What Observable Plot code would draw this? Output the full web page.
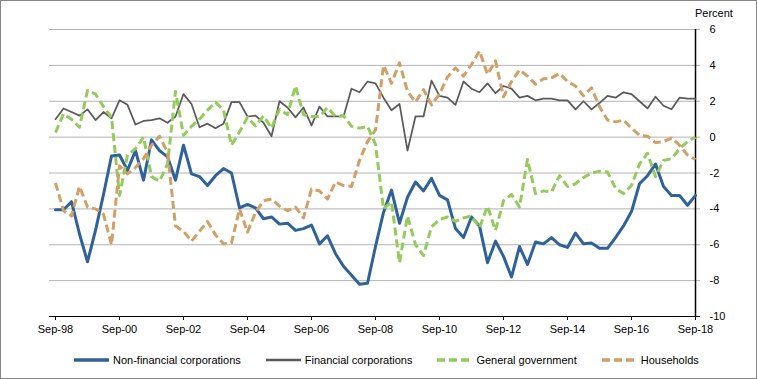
<!DOCTYPE html>
<html><head><meta charset="utf-8">
<script src="https://cdn.jsdelivr.net/npm/d3@7"></script>
<script src="https://cdn.jsdelivr.net/npm/@observablehq/plot@0.6"></script>
<style>
html,body{margin:0;padding:0;background:#fff;}
#wrap{position:relative;width:757px;height:379px;overflow:hidden;font-family:"Liberation Sans",Arial,sans-serif;color:#000;}
#frame{position:absolute;left:0;top:0;width:757px;height:379px;box-sizing:border-box;border:1px solid #868686;pointer-events:none;}
#chart{position:absolute;left:0;top:0;}
#ylabel{position:absolute;left:695px;top:7px;font-size:11px;line-height:13px;}
#legend{position:absolute;left:74px;top:352px;display:flex;gap:25px;font-size:11px;line-height:16px;white-space:nowrap;}
.item{display:flex;align-items:center;}
.item svg{margin-right:4px;display:block;}
</style>
</head>
<body>
<div id="wrap">
  <div id="chart"></div>
  <div id="ylabel">Percent</div>
  <div id="legend"></div>
  <div id="frame"></div>
</div>
<script>
const quarters = [
  "Sep-98","Dec-98","Mar-99","Jun-99","Sep-99","Dec-99","Mar-00","Jun-00",
  "Sep-00","Dec-00","Mar-01","Jun-01","Sep-01","Dec-01","Mar-02","Jun-02",
  "Sep-02","Dec-02","Mar-03","Jun-03","Sep-03","Dec-03","Mar-04","Jun-04",
  "Sep-04","Dec-04","Mar-05","Jun-05","Sep-05","Dec-05","Mar-06","Jun-06",
  "Sep-06","Dec-06","Mar-07","Jun-07","Sep-07","Dec-07","Mar-08","Jun-08",
  "Sep-08","Dec-08","Mar-09","Jun-09","Sep-09","Dec-09","Mar-10","Jun-10",
  "Sep-10","Dec-10","Mar-11","Jun-11","Sep-11","Dec-11","Mar-12","Jun-12",
  "Sep-12","Dec-12","Mar-13","Jun-13","Sep-13","Dec-13","Mar-14","Jun-14",
  "Sep-14","Dec-14","Mar-15","Jun-15","Sep-15","Dec-15","Mar-16","Jun-16",
  "Sep-16","Dec-16","Mar-17","Jun-17","Sep-17","Dec-17","Mar-18","Jun-18",
  "Sep-18"
];
const xTickLabels = ["Sep-98","Sep-00","Sep-02","Sep-04","Sep-06","Sep-08","Sep-10","Sep-12","Sep-14","Sep-16","Sep-18"];
const yTicks = [-10,-8,-6,-4,-2,0,2,4,6];
const seriesNames = ["Non-financial corporations","Financial corporations","General government","Households"];

const nonFinancial = [
  -4.05,-4.05,-3.6,-5.4,-6.95,-5.2,-3.2,-1.05,
  -1.0,-1.85,-0.75,-2.4,-0.15,-0.75,-1.1,-2.4,
  -0.45,-2.05,-2.2,-2.7,-2.15,-1.75,-2.0,-3.95,
  -3.75,-3.95,-4.55,-4.45,-4.85,-4.8,-5.2,-5.1,
  -4.9,-5.95,-5.5,-6.5,-7.2,-7.7,-8.2,-8.15,
  -6.1,-4.2,-2.95,-4.8,-3.35,-2.5,-3.0,-2.3,
  -3.25,-3.5,-5.1,-5.6,-4.45,-4.95,-7.0,-5.8,
  -6.65,-7.8,-6.1,-7.1,-5.85,-5.95,-5.6,-6.0,
  -6.15,-5.35,-5.95,-5.9,-6.2,-6.2,-5.6,-4.95,
  -4.15,-2.6,-2.15,-1.5,-2.75,-3.25,-3.25,-3.8,
  -3.25
];
const financial = [
  1.0,1.6,1.4,1.2,1.55,0.95,1.4,1.05,
  2.05,1.8,0.7,0.9,0.95,1.05,0.8,1.15,
  2.4,1.85,0.55,0.75,0.5,0.75,1.95,1.95,
  1.15,1.2,0.8,0.05,2.0,1.65,1.1,1.65,
  0.65,1.7,1.15,1.15,1.15,2.7,2.5,3.1,
  3.0,2.2,1.5,1.85,-0.75,1.15,1.15,3.15,
  2.3,2.2,1.8,3.1,2.7,2.5,3.0,2.45,
  2.85,2.7,2.2,2.3,2.05,2.15,2.15,2.05,
  2.05,1.55,2.0,1.55,1.9,2.3,2.2,2.5,
  2.4,2.0,1.6,2.25,1.75,1.55,2.2,2.15,
  2.15
];
const generalGov = [
  0.25,1.3,1.0,0.55,2.6,2.4,1.7,1.1,
  -3.25,-1.0,-0.65,0.0,-2.2,-2.45,-1.5,2.55,
  0.1,0.6,1.0,1.5,1.95,1.5,-0.45,0.3,
  1.1,0.62,1.18,0.5,1.55,1.25,2.85,1.25,
  1.15,1.15,1.65,1.15,1.2,0.6,0.5,0.6,
  -0.4,-4.0,-3.6,-7.0,-4.4,-6.0,-6.6,-5.0,
  -4.6,-4.45,-4.7,-4.5,-4.4,-5.05,-3.85,-5.2,
  -3.55,-3.2,-3.9,-1.25,-3.15,-3.0,-3.05,-2.15,
  -2.75,-2.6,-2.25,-2.0,-1.9,-1.95,-2.85,-3.15,
  -2.7,-1.5,-0.9,-2.2,-1.3,-1.2,-0.65,-0.25,
  0.0
];
const households = [
  -2.55,-4.1,-4.4,-2.75,-3.9,-4.0,-4.3,-6.0,
  -1.6,-2.05,-1.7,-1.2,-0.45,0.05,-0.85,-4.95,
  -5.25,-5.8,-5.25,-4.7,-5.45,-5.95,-5.9,-4.0,
  -5.3,-4.2,-3.55,-3.45,-3.85,-4.1,-3.9,-4.5,
  -2.9,-3.0,-3.45,-2.5,-2.7,-2.75,-1.3,-0.25,
  0.4,4.0,3.0,4.15,2.55,1.95,2.65,1.8,
  2.4,3.35,3.85,3.4,4.05,4.8,3.5,4.25,
  2.25,3.1,3.75,3.4,2.95,3.25,3.3,3.55,
  3.1,2.85,2.3,2.75,1.7,0.95,0.85,0.95,
  0.5,0.1,0.05,-0.3,-0.25,-0.05,-0.45,-1.0,
  -1.25
];

const seriesValues = [nonFinancial, financial, generalGov, households];
const styles = [
  {stroke:"#2f6299", strokeWidth:3, dash:null},
  {stroke:"#5a5a5a", strokeWidth:1.75, dash:null},
  {stroke:"#93cb5c", strokeWidth:3, dash:"8,4"},
  {stroke:"#d19f68", strokeWidth:3, dash:"8,4"}
];

const rows = [];
seriesNames.forEach((name, s) => {
  seriesValues[s].forEach((v, i) => rows.push({q: quarters[i], value: v, series: name}));
});

const lineMarks = seriesNames.map((name, s) => Plot.line(rows.filter(r => r.series === name), {
  x: "q", y: "value",
  stroke: styles[s].stroke, strokeWidth: styles[s].strokeWidth,
  strokeDasharray: styles[s].dash || undefined,
  strokeLinejoin: "round", strokeLinecap: styles[s].dash ? "butt" : "round"
}));

const chart = Plot.plot({
  width: 757,
  height: 345,
  marginLeft: 49,
  marginRight: 57,
  marginTop: 29,
  marginBottom: 29,
  style: {fontFamily: "'Liberation Sans', Arial, sans-serif", fontSize: "11px", color: "#000", background: "transparent"},
  x: {type: "point", domain: quarters, padding: 0},
  y: {domain: [-10, 6]},
  marks: [
    Plot.gridY(yTicks.filter(t => t > -10), {stroke: "#b3b3b3", strokeOpacity: 1, strokeWidth: 1}),
    Plot.ruleY([-10], {stroke: "#000", strokeWidth: 1}),
    Plot.ruleX([quarters[quarters.length - 1]], {y1: -10, y2: 6, stroke: "#000", strokeWidth: 1.5}),
    Plot.axisX({ticks: xTickLabels, tickSize: 4, tickPadding: 5, label: null, stroke: "#000", fill: "#000"}),
    Plot.axisY({anchor: "right", ticks: yTicks, tickSize: 0, tickPadding: 9, label: null, tickFormat: d => String(d), fill: "#000"}),
    ...lineMarks
  ]
});
document.getElementById("chart").appendChild(chart);

const legend = document.getElementById("legend");
seriesNames.forEach((name, s) => {
  const item = document.createElement("div");
  item.className = "item";
  const st = styles[s];
  item.innerHTML = `<svg width="35" height="6"><line x1="0" y1="3" x2="35" y2="3" stroke="${st.stroke}" stroke-width="${st.strokeWidth === 3 ? 3.5 : 2.5}" ${st.dash ? 'stroke-dasharray="8,4"' : ''}/></svg><span>${name}</span>`;
  legend.appendChild(item);
});
</script>
</body></html>
